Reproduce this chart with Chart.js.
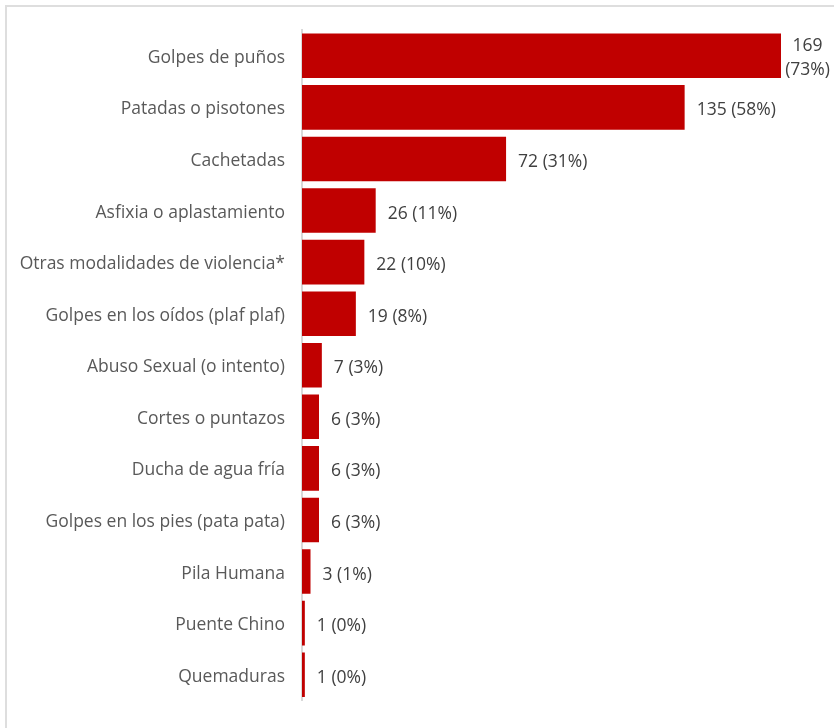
<!doctype html>
<html lang="es">
  <head>
    <meta charset="utf-8">
    <title>Modalidades de violencia</title>
    <style>
        html, body { margin: 0; padding: 0; background: #ffffff; overflow: hidden; }
        .frame {
            position: absolute; left: 5px; top: 5px;
            width: 900px; height: 800px;
            border-top: 2px solid #dedede; border-left: 2px solid #dedede;
        }
        #chart { position: absolute; left: 0; top: 0; }
    </style>
  </head>
  <body>
    <div class="frame"></div>
    <div style="position:absolute;left:0;top:0;width:834px;height:728px;">
        <canvas id="chart" width="834" height="728"></canvas>
    </div>

    <script src="https://cdn.jsdelivr.net/npm/chart.js"></script>
    <script>
        const categories = [
            'Golpes de puños', 'Patadas o pisotones', 'Cachetadas', 'Asfixia o aplastamiento',
            'Otras modalidades de violencia*', 'Golpes en los oídos (plaf plaf)', 'Abuso Sexual (o intento)',
            'Cortes o puntazos', 'Ducha de agua fría', 'Golpes en los pies (pata pata)',
            'Pila Humana', 'Puente Chino', 'Quemaduras'
        ];
        const counts = [169, 135, 72, 26, 22, 19, 7, 6, 6, 6, 3, 1, 1];
        const percents = [73, 58, 31, 11, 10, 8, 3, 3, 3, 3, 1, 0, 0];

        const FONT = '"Open Sans", "Noto Sans", sans-serif';

        // writes "n (p%)" after each bar, wrapping onto two lines when it runs off the canvas
        const valueLabels = {
            id: 'valueLabels',
            afterDatasetsDraw(chart) {
                const ctx = chart.ctx;
                const meta = chart.getDatasetMeta(0);
                ctx.save();
                ctx.font = '17.5px ' + FONT;
                ctx.fillStyle = '#404040';
                ctx.textBaseline = 'middle';
                meta.data.forEach((bar, i) => {
                    const text = counts[i] + ' (' + percents[i] + '%)';
                    const x = bar.x + 12;
                    if (x + ctx.measureText(text).width > chart.width - 2) {
                        const lines = [String(counts[i]), '(' + percents[i] + '%)'];
                        const w = Math.max(...lines.map(l => ctx.measureText(l).width));
                        const cx = Math.min(x + w / 2, chart.width - 4 - w / 2);
                        ctx.textAlign = 'center';
                        ctx.fillText(lines[0], cx, bar.y - 10);
                        ctx.fillText(lines[1], cx, bar.y + 14);
                    } else {
                        ctx.textAlign = 'left';
                        ctx.fillText(text, x, bar.y + 3);
                    }
                });
                ctx.restore();
            }
        };

        new Chart(document.getElementById('chart'), {
            type: 'bar',
            data: {
                labels: categories,
                datasets: [{
                    data: counts,
                    backgroundColor: '#c00000',
                    barPercentage: 0.9,
                    categoryPercentage: 0.96
                }]
            },
            options: {
                indexAxis: 'y',
                responsive: false,
                animation: false,
                layout: { padding: { left: 0, right: 53, top: 30, bottom: 19 } },
                plugins: { legend: { display: false }, tooltip: { enabled: false } },
                scales: {
                    x: { display: false, min: 0, max: 169 },
                    y: {
                        afterFit(scale) { scale.width = 302; },
                        grid: { display: false, drawTicks: false },
                        border: { display: true, color: '#d9d9d9', width: 2 },
                        ticks: { padding: 17, labelOffset: 2, color: '#595959', font: { family: FONT, size: 17.5 } }
                    }
                }
            },
            plugins: [valueLabels]
        });
    </script>
  </body>
</html>
